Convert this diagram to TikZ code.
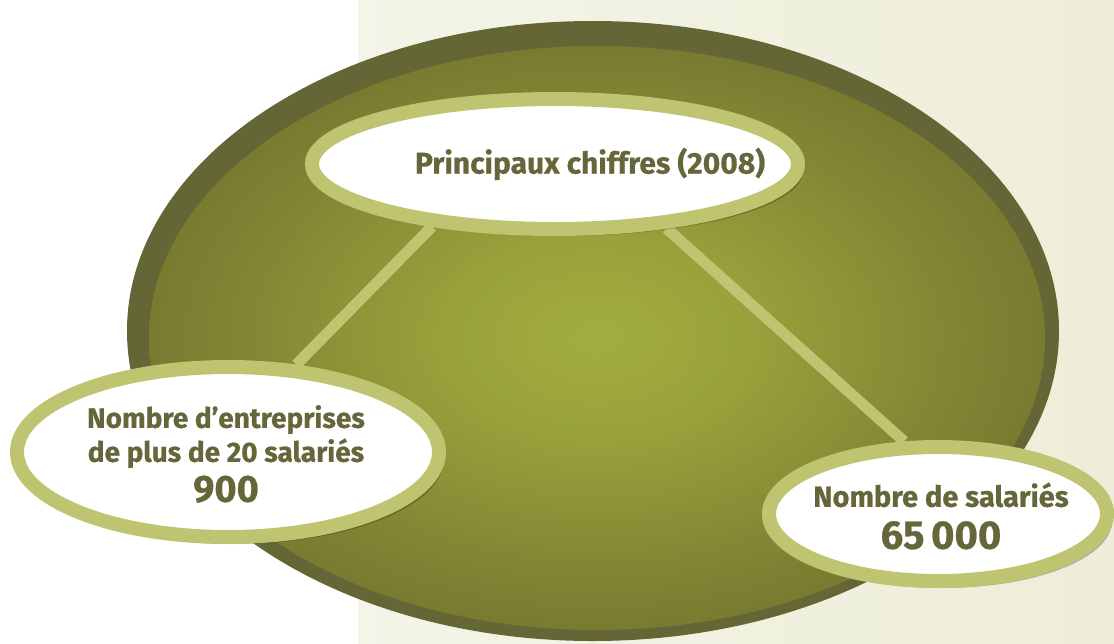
\documentclass[tikz,border=0pt]{standalone}
\usepackage{fontspec}
\setmainfont{Fira Sans}[BoldFeatures={FakeBold=0.6}]
\usetikzlibrary{shapes.geometric,positioning,backgrounds,shadows}

\definecolor{rimolive}{HTML}{646636}
\definecolor{darkolive}{HTML}{5A5527}
\definecolor{midolive}{HTML}{A2AD3E}
\definecolor{paleleaf}{HTML}{BEC46F}
\definecolor{inkolive}{HTML}{65663A}
\definecolor{paperleft}{HTML}{F2F5E7}
\definecolor{paperright}{HTML}{EEEDD8}

\pgfdeclareradialshading{oliveglow}{\pgfpoint{0bp}{0bp}}{color(0bp)=(midolive); color(8bp)=(midolive!88!darkolive); color(20bp)=(midolive!55!darkolive); color(35bp)=(midolive!18!darkolive); color(50bp)=(darkolive)}

\tikzset{
  bubble/.style={ellipse, draw=paleleaf, fill=white, line width=14pt, inner sep=0pt,
    drop shadow={shadow xshift=5pt, shadow yshift=-7pt, opacity=0.25, fill=black}},
  figtext/.style={text=inkolive, align=center, inner sep=0pt},
  link/.style={draw=paleleaf, line width=11pt},
}

\begin{document}
\begin{tikzpicture}[x=1pt, y=-1pt]
    \begin{pgfonlayer}{background}
        % paper and olive disc
        \fill[white] (0,0) rectangle (1114,643);
        \shade[left color=paperleft, right color=paperright] (358,0) rectangle (1114,643);
        \fill[rimolive] (593,331) ellipse [x radius=466, y radius=310];
        \shade[shading=oliveglow] (597,338) ellipse [x radius=448, y radius=292];
    \end{pgfonlayer}
    \useasboundingbox (0,0) rectangle (1114,643);

    \node (head) [bubble, minimum width=486pt, minimum height=130pt] at (555,164) {};
    \node (firms) [bubble, minimum width=422pt, minimum height=170pt] at (228,452) {};
    \node (staff) [bubble, minimum width=338pt, minimum height=134pt] at (938,514) {};

    \node (headtext) [figtext, font=\bfseries\fontsize{30}{34}\selectfont] at ([xshift=35pt]head.center) {Principaux chiffres (2008)};
    \node (firmstext) [figtext, font=\bfseries\fontsize{28}{34}\selectfont] at (226,454)
        {Nombre d’entreprises\\de plus de 20 salariés\\[6pt]{\fontsize{38}{44}\selectfont 900}};
    \node (stafftext) [figtext, font=\bfseries\fontsize{29}{36}\selectfont] at (941,516)
        {Nombre de salariés\\[6pt]{\fontsize{40}{46}\selectfont 65\,000}};

    \begin{pgfonlayer}{background}
        \draw [link] (head.207) -- (firms.52);
        \draw [link] (head.330) -- (staff.115);
    \end{pgfonlayer}
\end{tikzpicture}
\end{document}
